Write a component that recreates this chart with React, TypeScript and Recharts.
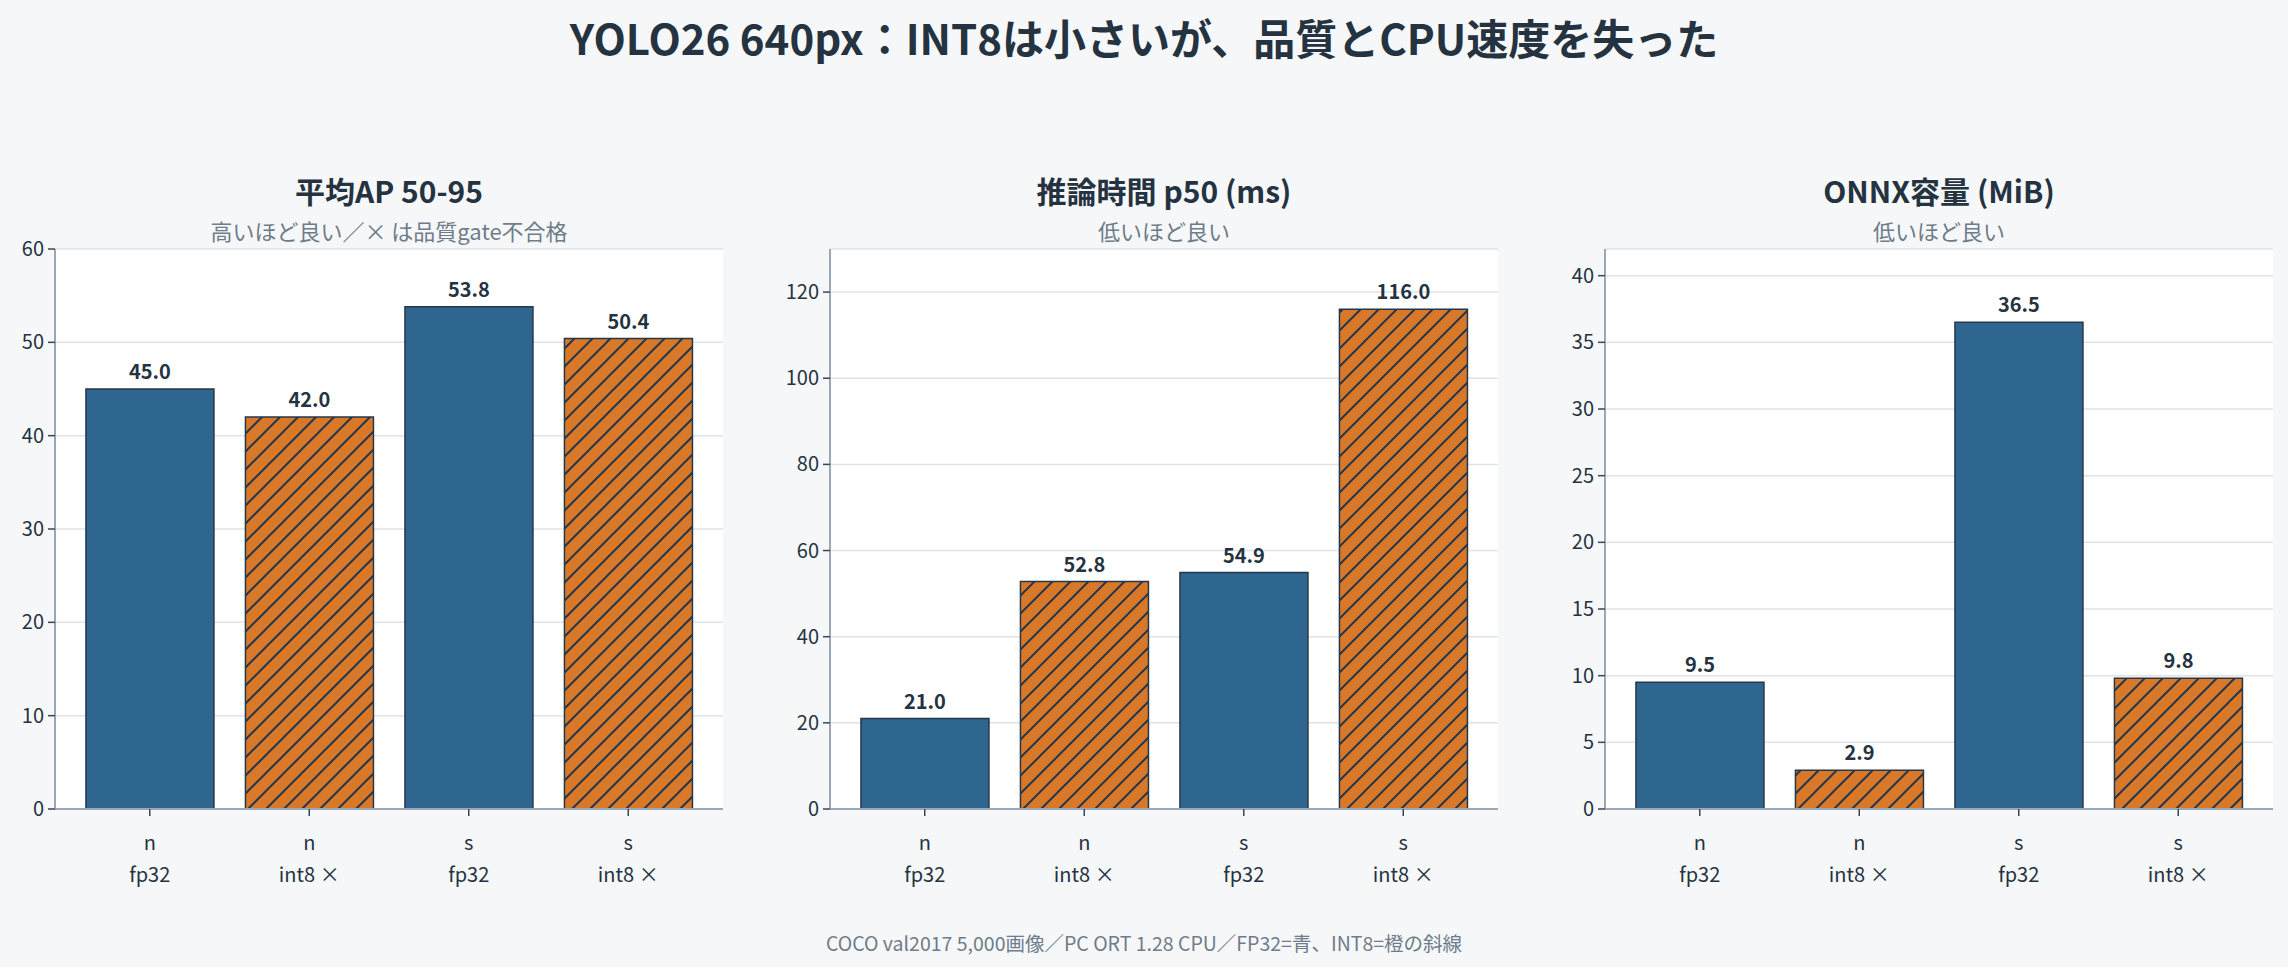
import React from 'react';
import { BarChart, Bar, XAxis, YAxis, CartesianGrid, Cell, LabelList } from 'recharts';

// values
const models = ['n', 'n', 's', 's'];
const precisions = ['fp32', 'int8 ×', 'fp32', 'int8 ×'];
const isInt8 = [false, true, false, true];
const mapValues = [45.0, 42.0, 53.8, 50.4];
const latencyValues = [21.0, 52.8, 54.9, 116.0];
const sizeValues = [9.5, 2.9, 36.5, 9.8];

const mapTicks = [0, 10, 20, 30, 40, 50, 60];
const latencyTicks = [0, 20, 40, 60, 80, 100, 120];
const sizeTicks = [0, 5, 10, 15, 20, 25, 30, 35, 40];

const FONT = '"Noto Sans CJK JP", "Noto Sans", sans-serif';
const BG = '#f5f7f9';
const TEXT = '#253341';
const MUTED = '#6f7c89';
const BLUE = '#2e668f';
const ORANGE = '#d97828';
const EDGE = '#27374a';
const SPINE = '#9aa8b5';

const PLOT_TOP = 249;
const PLOT_BOTTOM = 809;
const PLOT_W = 668;
const Y_AXIS_W = 60;

const buildRows = (values: number[]) =>
  values.map((v, i) => ({
    label: `${models[i]}\n${precisions[i]}`,
    value: v,
    int8: isInt8[i],
  }));

const XTick = ({ x, y, payload }: any) => {
  const [top, bottom] = String(payload.value).split('\n');
  return (
    <text x={x} y={y} textAnchor="middle" fill={TEXT} fontSize={20} fontFamily={FONT}>
      <tspan x={x} dy={32}>{top}</tspan>
      <tspan x={x} dy={32}>{bottom}</tspan>
    </text>
  );
};

type PanelProps = {
  left: number;
  values: number[];
  ticks: number[];
  yMax: number;
  title: string;
  subtitle: string;
};

const Panel = ({ left, values, ticks, yMax, title, subtitle }: PanelProps) => {
  const rows = buildRows(values);
  const cx = left + PLOT_W / 2;
  return (
    <>
      <div style={{ position: 'absolute', left: left - Y_AXIS_W, top: 0 }}>
        <BarChart
          width={Y_AXIS_W + PLOT_W + 10}
          height={967}
          data={rows}
          margin={{ top: PLOT_TOP, right: 10, left: 0, bottom: 967 - PLOT_BOTTOM - 80 }}
          barCategoryGap="10%"
        >
          <CartesianGrid vertical={false} stroke="#dde3e9" strokeWidth={1.5} fill="#ffffff" />
          <XAxis
            dataKey="label"
            height={80}
            padding={{ left: 15, right: 15 }}
            tick={<XTick />}
            tickSize={7}
            axisLine={{ stroke: SPINE, strokeWidth: 2 }}
            tickLine={{ stroke: '#3a4653', strokeWidth: 1.5 }}
            interval={0}
          />
          <YAxis
            width={Y_AXIS_W}
            domain={[0, yMax]}
            ticks={ticks}
            tickSize={7}
            tickMargin={4}
            allowDataOverflow
            axisLine={{ stroke: SPINE, strokeWidth: 2 }}
            tickLine={{ stroke: '#3a4653', strokeWidth: 1.5 }}
            tick={{ fill: TEXT, fontSize: 20, fontFamily: FONT }}
          />
          <Bar dataKey="value" isAnimationActive={false} stroke={EDGE} strokeWidth={1.5}>
            {rows.map((r, i) => (
              <Cell key={i} fill={r.int8 ? 'url(#int8Hatch)' : BLUE} />
            ))}
            <LabelList
              dataKey="value"
              position="top"
              offset={10}
              formatter={(v: any) => Number(v).toFixed(1)}
              style={{ fill: TEXT, fontSize: 20, fontWeight: 700, fontFamily: FONT }}
            />
          </Bar>
        </BarChart>
      </div>
      <svg
        width={2288}
        height={967}
        style={{ position: 'absolute', left: 0, top: 0, pointerEvents: 'none' }}
      >
        <text x={cx} y={190} textAnchor="middle" dominantBaseline="central" fill={TEXT}
          fontSize={30} fontWeight={700} fontFamily={FONT}>{title}</text>
        <text x={cx} y={230} textAnchor="middle" dominantBaseline="central" fill={MUTED}
          fontSize={22} fontFamily={FONT}>{subtitle}</text>
      </svg>
    </>
  );
};

export default function App() {
  return (
    <div style={{ position: 'absolute', left: 0, top: 0, width: 2288, height: 967, background: BG, overflow: 'hidden', fontFamily: FONT }}>
      <svg width={0} height={0} style={{ position: 'absolute' }}>
        <defs>
          <pattern id="int8Hatch" patternUnits="userSpaceOnUse" width={18} height={18}>
            <rect width={18} height={18} fill={ORANGE} />
            <path d="M-4.5,4.5 L4.5,-4.5 M0,18 L18,0 M13.5,22.5 L22.5,13.5" stroke={EDGE} strokeWidth={2} />
          </pattern>
        </defs>
      </svg>
      <Panel left={55} values={mapValues} ticks={mapTicks} yMax={60}
        title="平均AP 50-95" subtitle="高いほど良い／× は品質gate不合格" />
      <Panel left={830} values={latencyValues} ticks={latencyTicks} yMax={130}
        title="推論時間 p50 (ms)" subtitle="低いほど良い" />
      <Panel left={1605} values={sizeValues} ticks={sizeTicks} yMax={42}
        title="ONNX容量 (MiB)" subtitle="低いほど良い" />
      <svg width={2288} height={967} style={{ position: 'absolute', left: 0, top: 0, pointerEvents: 'none' }}>
        <text x={1144} y={36} textAnchor="middle" dominantBaseline="central" fill={TEXT}
          fontSize={42} fontWeight={700} fontFamily={FONT}>
          YOLO26 640px：INT8は小さいが、品質とCPU速度を失った
        </text>
        <text x={1144} y={942} textAnchor="middle" dominantBaseline="central" fill={MUTED}
          fontSize={19.5} fontFamily={FONT}>
          COCO val2017 5,000画像／PC ORT 1.28 CPU／FP32=青、INT8=橙の斜線
        </text>
      </svg>
    </div>
  );
}
